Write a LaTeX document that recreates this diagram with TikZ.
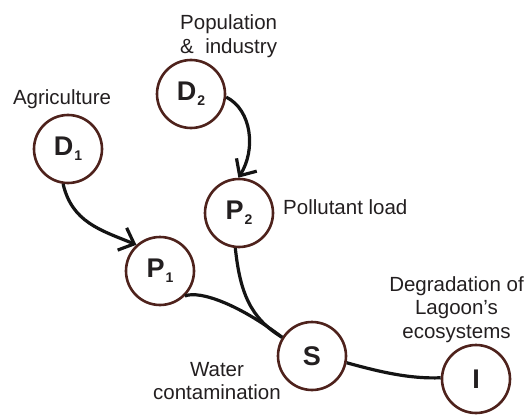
\documentclass[tikz,border=0pt]{standalone}
\usepackage{fontspec}
\setmainfont{Liberation Sans}
\usetikzlibrary{arrows.meta}
\definecolor{circbrown}{RGB}{78,34,28}
\definecolor{textgray}{RGB}{35,31,32}
\begin{document}
\begin{tikzpicture}[x=1pt,y=-1pt,
  state/.style={circle,draw=circbrown,line width=2.6pt,minimum size=68pt,inner sep=0pt,
    text=textgray,font=\fontsize{27}{27}\selectfont\bfseries},
  lab/.style={font=\fontsize{20.5}{23.5}\selectfont,text=textgray,inner sep=0pt},
  link/.style={line width=3.2pt,black!92},
  arr/.style={link,-{Straight Barb[length=13pt,width=24pt,line width=3.2pt]}}
]
\useasboundingbox (0,0) rectangle (528,415);
\newcommand{\sub}[1]{\kern1pt\raisebox{-0.2em}{\fontsize{14}{14}\selectfont #1}}
% nodes
\node[state] (D1) at (68,149) {D\sub{1}};
\node[state] (D2) at (191,94) {D\sub{2}};
\node[state] (P2) at (239,213) {P\sub{2}};
\node[state] (P1) at (160,271) {P\sub{1}};
\node[state] (S)  at (312,356) {S};
\node[state] (I)  at (476,379) {I};
% labels
\node[lab,anchor=base] (lagr) at (62,104) {Agriculture};
\node[lab,anchor=north west,align=left] (lpop) at (180,14.5) {Population\\\&\ \ industry};
\node[lab,anchor=base west] (lpol) at (283,214.5) {Pollutant load};
\node[lab,anchor=north,align=center] (ldeg) at (456.5,276) {Degradation of\\Lagoon’s\\ecosystems};
\node[lab,anchor=north,align=center] (lwat) at (217,362) {Water\\contamination};
% connectors
\draw[arr] (D1.262) .. controls (72,222) and (100,230) .. (P1.132);
\draw[arr] (D2.-5) .. controls (252,110) and (256,150) .. (P2.91);
\draw[link] (P1.-45) .. controls (200,290) and (240,305) .. (S.148);
\draw[link] (P2.-96) .. controls (240,292) and (250,318) .. (S.148);
\draw[link] (S.-11) .. controls (380,372) and (410,379) .. (I.178);
\end{tikzpicture}
\end{document}
